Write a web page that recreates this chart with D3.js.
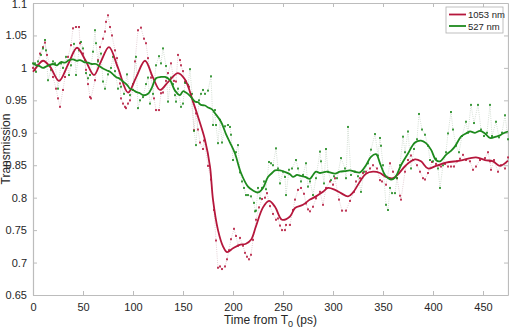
<!DOCTYPE html>
<html>
<head>
<meta charset="utf-8">
<script src="https://cdn.jsdelivr.net/npm/d3@7"></script>
<style>
  body { margin: 0; background: #fff; }
  text { font-family: "Liberation Sans", Arial, sans-serif; fill: #262626; }
</style>
</head>
<body>
<div id="chart"></div>
<script>
// measured points [time ps, transmission]
var red_pts = [[0,1.000],[2,0.997],[4,1.004],[7,1.022],[10,1.032],[12,1.039],[14,1.020],[17,1.004],[20,0.986],[23,0.968],[25,0.953],[27,0.940],[30,0.966],[32,0.986],[35,1.017],[38,1.035],[40,1.061],[43,1.063],[46,1.063],[47,1.038],[50,1.022],[53,0.997],[55,0.975],[57,0.955],[58,0.953],[62,0.981],[65,1.012],[67,1.032],[70,1.045],[72,1.056],[73,1.071],[75,1.081],[77,1.063],[79,1.050],[82,1.027],[84,1.015],[87,0.976],[88,0.953],[90,0.945],[92,0.940],[93,0.938],[95,0.945],[97,0.950],[100,0.966],[102,1.010],[105,1.058],[108,1.062],[111,1.045],[113,1.038],[115,1.015],[118,0.985],[121,0.953],[123,0.935],[126,0.935],[128,0.961],[130,0.962],[133,0.980],[135,0.992],[138,1.007],[141,0.980],[143,0.979],[145,1.020],[147,1.012],[148,1.004],[150,0.995],[152,0.979],[153,0.977],[156,0.971],[158,0.958],[161,0.904],[163,0.930],[165,0.905],[167,0.885],[170,0.875],[171,0.888],[175,0.849],[178,0.828],[181,0.781],[183,0.734],[185,0.692],[187,0.694],[189,0.690],[192,0.694],[194,0.705],[196,0.719],[198,0.736],[201,0.752],[203,0.741],[205,0.726],[207,0.738],[210,0.726],[212,0.715],[214,0.709],[216,0.705],[218,0.712],[220,0.735],[223,0.766],[226,0.785],[229,0.798],[232,0.800],[234,0.807],[237,0.787],[240,0.775],[243,0.766],[245,0.768],[247,0.757],[249,0.750],[252,0.750],[253,0.758],[257,0.758],[260,0.781],[262,0.797],[265,0.812],[268,0.815],[271,0.806],[273,0.791],[275,0.782],[277,0.779],[280,0.786],[283,0.799],[287,0.809],[290,0.789],[293,0.815],[297,0.825],[300,0.820],[302,0.830],[306,0.797],[309,0.780],[313,0.780],[317,0.795],[321,0.809],[323,0.825],[327,0.830],[330,0.838],[333,0.840],[337,0.845],[340,0.850],[344,0.845],[347,0.827],[349,0.825],[353,0.820],[357,0.853],[360,0.840],[364,0.830],[367,0.803],[368,0.797],[372,0.840],[375,0.858],[378,0.865],[380,0.858],[384,0.850],[387,0.840],[390,0.830],[392,0.828],[395,0.838],[399,0.855],[403,0.852],[406,0.850],[408,0.848],[412,0.852],[415,0.848],[418,0.848],[421,0.848],[424,0.856],[427,0.860],[430,0.866],[433,0.858],[437,0.856],[440,0.843],[443,0.848],[447,0.858],[452,0.861],[455,0.870],[457,0.856],[458,0.843],[461,0.858],[465,0.840],[468,0.850],[472,0.845],[475,0.862]];

var green_pts = [[0,1.007],[2,1.007],[3,0.994],[5,1.010],[8,1.020],[10,1.030],[12,1.043],[13,1.027],[15,0.981],[18,0.997],[20,1.010],[22,1.007],[25,0.968],[28,1.007],[30,1.000],[33,1.017],[36,0.989],[38,1.004],[41,1.037],[43,0.989],[46,1.027],[48,1.040],[50,1.030],[52,1.012],[53,0.992],[55,0.984],[57,0.989],[60,1.025],[62,1.058],[63,1.038],[65,1.010],[68,1.022],[70,0.979],[72,0.968],[75,0.990],[78,1.000],[80,1.017],[82,0.995],[85,0.968],[88,0.971],[91,0.960],[94,0.990],[97,0.958],[100,0.975],[103,1.017],[105,0.938],[107,0.950],[110,0.955],[113,0.975],[115,0.985],[117,0.945],[120,0.960],[123,1.004],[126,1.018],[128,1.007],[130,1.030],[133,1.003],[135,0.948],[138,0.985],[140,0.975],[142,0.958],[143,0.948],[145,0.968],[148,0.940],[150,0.945],[152,0.977],[153,0.979],[155,0.974],[157,0.998],[159,0.960],[161,0.903],[163,0.881],[166,0.950],[168,0.960],[170,0.966],[172,0.960],[175,0.965],[178,0.987],[180,0.912],[182,0.935],[183,0.912],[185,0.884],[187,0.920],[189,0.885],[192,0.910],[195,0.912],[197,0.909],[198,0.897],[200,0.858],[203,0.870],[205,0.881],[207,0.839],[209,0.825],[211,0.815],[213,0.804],[215,0.804],[218,0.802],[221,0.792],[222,0.779],[223,0.780],[225,0.815],[227,0.799],[229,0.815],[231,0.825],[233,0.813],[236,0.855],[238,0.853],[240,0.850],[243,0.876],[245,0.845],[247,0.822],[250,0.840],[252,0.832],[253,0.804],[256,0.843],[259,0.845],[263,0.858],[265,0.845],[268,0.825],[270,0.835],[273,0.853],[275,0.817],[277,0.825],[280,0.804],[283,0.830],[287,0.871],[288,0.856],[291,0.822],[293,0.875],[295,0.840],[298,0.827],[301,0.833],[304,0.830],[308,0.861],[312,0.845],[313,0.830],[315,0.909],[318,0.835],[322,0.840],[325,0.833],[328,0.809],[331,0.840],[335,0.853],[338,0.874],[342,0.898],[345,0.865],[347,0.892],[348,0.880],[350,0.850],[353,0.789],[355,0.781],[357,0.815],[359,0.807],[362,0.807],[364,0.830],[367,0.850],[370,0.894],[372,0.870],[375,0.902],[378,0.845],[381,0.875],[384,0.890],[386,0.929],[389,0.905],[392,0.897],[395,0.880],[397,0.858],[400,0.856],[403,0.860],[405,0.845],[407,0.815],[410,0.850],[413,0.870],[415,0.899],[418,0.932],[420,0.905],[423,0.880],[426,0.870],[429,0.895],[433,0.917],[435,0.900],[438,0.943],[441,0.915],[445,0.943],[448,0.905],[451,0.895],[454,0.900],[457,0.943],[459,0.895],[463,0.917],[466,0.893],[469,0.900],[472,0.927],[475,0.890]];

// smoothed curves
var red_fit = [[0,0.994],[5,1.004],[10,1.011],[17,1.002],[26,0.980],[35,1.005],[44,1.031],[52,1.013],[61,0.989],[68,1.010],[76,1.032],[85,1.000],[95,0.962],[103,0.985],[112,1.011],[120,0.985],[127,0.966],[135,0.978],[145,0.992],[152,0.982],[160,0.948],[166,0.920],[172,0.889],[177,0.848],[180,0.797],[185,0.750],[190,0.725],[194,0.716],[200,0.722],[206,0.727],[213,0.729],[218,0.735],[223,0.756],[230,0.785],[236,0.795],[242,0.786],[249,0.766],[257,0.771],[262,0.784],[270,0.789],[277,0.797],[283,0.802],[290,0.809],[295,0.815],[302,0.812],[308,0.807],[315,0.802],[320,0.808],[327,0.825],[333,0.837],[340,0.840],[347,0.838],[353,0.832],[360,0.830],[365,0.836],[373,0.850],[382,0.859],[388,0.856],[395,0.845],[403,0.849],[413,0.854],[427,0.857],[443,0.862],[452,0.858],[460,0.856],[467,0.849],[475,0.857]];

var green_fit = [[0,1.007],[3,1.004],[6,1.003],[10,1.000],[13,1.002],[16,1.004],[20,1.006],[24,1.004],[28,1.009],[32,1.008],[36,1.012],[40,1.013],[44,1.011],[47,1.012],[51,1.009],[55,1.008],[59,1.006],[63,1.006],[67,1.002],[70,0.999],[74,0.996],[77,0.994],[80,0.990],[83,0.986],[87,0.983],[90,0.979],[94,0.974],[97,0.968],[100,0.966],[103,0.963],[107,0.961],[110,0.958],[115,0.960],[119,0.970],[123,0.984],[128,0.986],[132,0.986],[137,0.981],[142,0.965],[147,0.958],[150,0.964],[153,0.962],[157,0.957],[162,0.948],[165,0.947],[168,0.943],[172,0.942],[175,0.939],[179,0.936],[182,0.930],[188,0.917],[193,0.898],[197,0.885],[202,0.868],[208,0.838],[215,0.817],[220,0.811],[225,0.808],[230,0.815],[235,0.832],[239,0.838],[242,0.842],[247,0.842],[253,0.839],[257,0.836],[260,0.832],[264,0.835],[267,0.834],[272,0.832],[277,0.829],[280,0.835],[283,0.840],[287,0.838],[290,0.839],[294,0.840],[297,0.839],[302,0.837],[307,0.840],[312,0.841],[317,0.842],[322,0.840],[327,0.839],[333,0.850],[338,0.863],[343,0.867],[347,0.853],[352,0.835],[358,0.828],[362,0.831],[368,0.850],[375,0.868],[382,0.885],[388,0.888],[393,0.884],[398,0.874],[403,0.858],[407,0.856],[413,0.866],[418,0.872],[422,0.879],[428,0.894],[433,0.899],[437,0.902],[442,0.900],[447,0.903],[452,0.899],[457,0.892],[463,0.894],[467,0.896],[470,0.899],[475,0.902]];

var x_ticks = [0,50,100,150,200,250,300,350,400,450];
var y_ticks = [0.65,0.7,0.75,0.8,0.85,0.9,0.95,1,1.05,1.1];
var series_names = ["1053 nm","527 nm"];
var red = "#b5173c", green = "#1d8a1d";

var margin = {top: 3, right: 1, bottom: 33, left: 33},
  width = 509 - margin.left - margin.right,
  height = 328 - margin.top - margin.bottom;

var svg = d3.select("#chart")
  .append("svg")
    .attr("width", 509)
    .attr("height", 328)
  .append("g")
    .attr("transform", "translate(" + margin.left + "," + margin.top + ")");

var xscale = d3.scaleLinear().domain([0,475]).range([0,width]);
var yscale = d3.scaleLinear().domain([0.65,1.1]).range([height,0]);

//axes, matlab style box with inward ticks
var axcol = "#bcbcbc";
var xax = svg.append("g").attr("transform","translate(0," + height + ")")
  .call(d3.axisBottom(xscale).tickValues(x_ticks).tickSizeInner(-4).tickSizeOuter(0).tickPadding(8));
var xtop = svg.append("g")
  .call(d3.axisTop(xscale).tickValues(x_ticks).tickSizeInner(-4).tickSizeOuter(0).tickFormat(""));
var yax = svg.append("g")
  .call(d3.axisLeft(yscale).tickValues(y_ticks).tickSizeInner(-4).tickSizeOuter(0).tickPadding(6)
    .tickFormat(function(d){ return d3.format("")(+d.toFixed(2)); }));
var yright = svg.append("g").attr("transform","translate(" + width + ",0)")
  .call(d3.axisRight(yscale).tickValues(y_ticks).tickSizeInner(-4).tickSizeOuter(0).tickFormat(""));

[xax, xtop, yax, yright].forEach(function(a){
  a.selectAll("path").attr("stroke", axcol).attr("stroke-width", 1.2);
  a.selectAll("line").attr("stroke", axcol);
  a.selectAll("text").style("font-size","11px").attr("fill","#262626");
});
// keep the top label inside the page
yax.selectAll(".tick").filter(function(d){ return d > 1.09; }).select("text").attr("dy","0.45em");

var line = d3.line().x(function(d){return xscale(d[0]);}).y(function(d){return yscale(d[1]);});
var smooth = d3.line().curve(d3.curveCatmullRom.alpha(0.5))
  .x(function(d){return xscale(d[0]);}).y(function(d){return yscale(d[1]);});

//dotted connectors for the raw points
[[red_pts,"#dcc4ca"], [green_pts,"#c9d6c9"]].forEach(function(s){
  svg.append("path").datum(s[0])
    .attr("d", line)
    .attr("fill","none")
    .attr("stroke",s[1])
    .attr("stroke-width",0.8)
    .attr("stroke-dasharray","1,1.2");
});

//raw points
[[red_pts, red],[green_pts, green]].forEach(function(s){
  svg.append("g").selectAll("rect")
    .data(s[0])
    .enter().append("rect")
      .attr("x", function(d){return xscale(d[0]) - 1;})
      .attr("y", function(d){return yscale(d[1]) - 1;})
      .attr("width", 2)
      .attr("height", 2)
      .attr("fill", s[1])
      .attr("opacity", 0.85);
});

//smoothed lines
svg.append("path").datum(red_fit)
  .attr("d", smooth).attr("fill","none").attr("stroke",red).attr("stroke-width",1.8);
svg.append("path").datum(green_fit)
  .attr("d", smooth).attr("fill","none").attr("stroke",green).attr("stroke-width",1.8);

//legend
var lg = svg.append("g").attr("transform","translate(" + (width - 62) + ",4)");
lg.append("rect").attr("width",57).attr("height",26)
  .attr("fill","#fff").attr("stroke","#b0b0b0").attr("stroke-width",0.8);
series_names.forEach(function(n,i){
  var yy = 7.5 + i*11.5;
  lg.append("line").attr("x1",3).attr("x2",20).attr("y1",yy).attr("y2",yy)
    .attr("stroke", i==0 ? red : green).attr("stroke-width",1.8);
  lg.append("text").attr("x",22).attr("y",yy+3.5).style("font-size","9.5px").text(n);
});

//axis labels
var xl = svg.append("text")
  .attr("transform","translate(" + (width/2) + "," + (height + 29) + ")")
  .style("text-anchor","middle")
  .style("font-size","12px");
xl.append("tspan").text("Time from T");
xl.append("tspan").attr("dy",2.5).style("font-size","9px").text("0");
xl.append("tspan").attr("dy",-2.5).text(" (ps)");

svg.append("text")
  .attr("transform","translate(" + (-23) + "," + (height/2) + "), rotate(-90)")
  .style("text-anchor","middle")
  .style("font-size","12px")
  .text("Transmission");
</script>
</body>
</html>
